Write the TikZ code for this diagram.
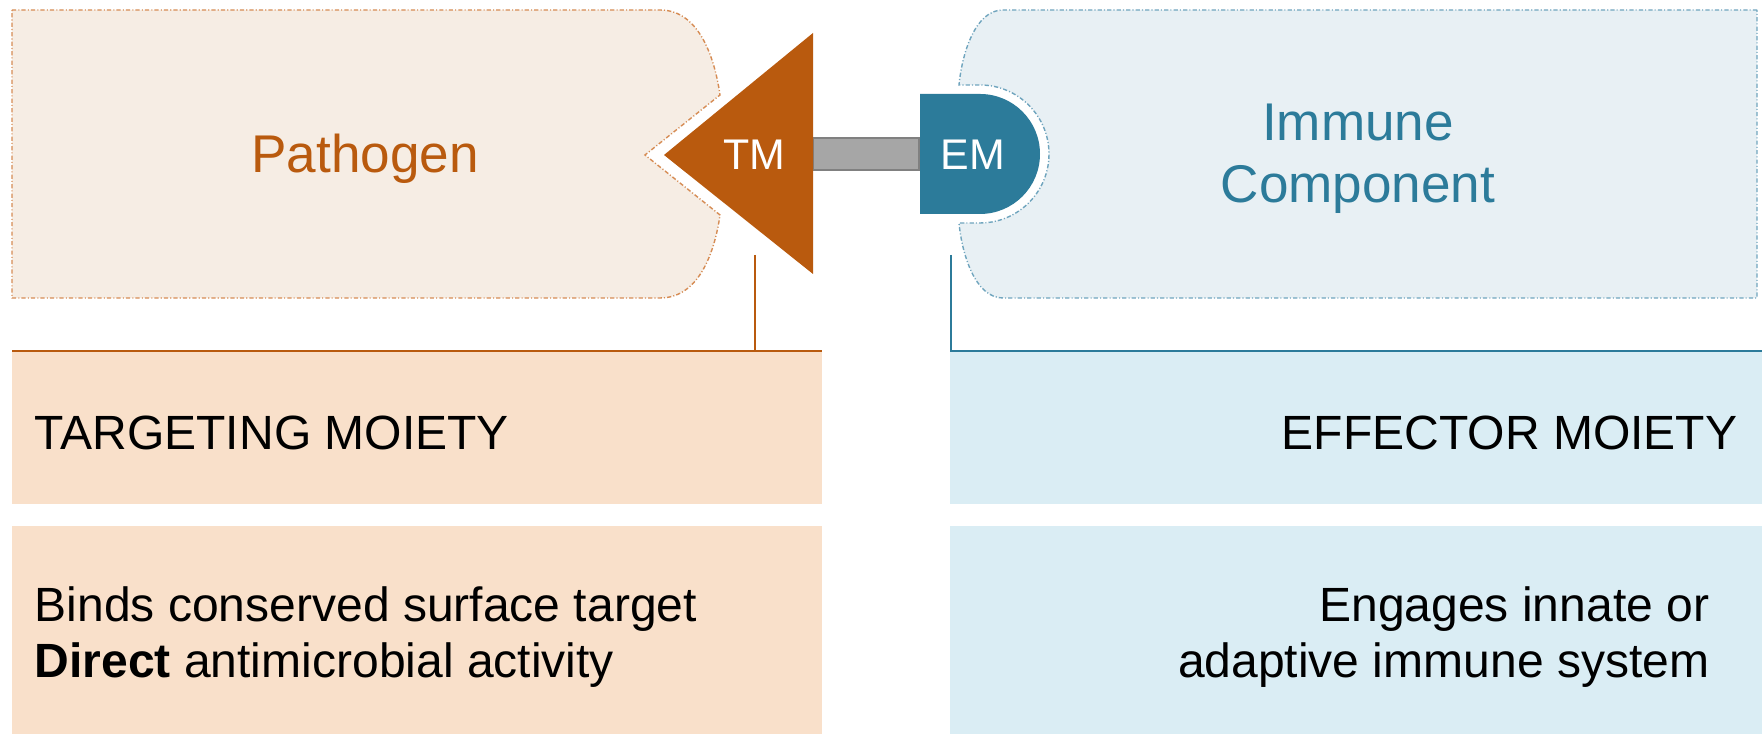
\documentclass[tikz,border=0pt]{standalone}
\usepackage{fontspec}
\setmainfont{Liberation Sans}
\usetikzlibrary{positioning}

\definecolor{tmorange}{RGB}{185,90,14}
\definecolor{tmdot}{RGB}{214,140,84}
\definecolor{tmpale}{RGB}{246,237,228}
\definecolor{tmpeach}{RGB}{249,224,202}
\definecolor{emblue}{RGB}{44,123,154}
\definecolor{emdot}{RGB}{112,165,190}
\definecolor{empale}{RGB}{232,240,244}
\definecolor{emsky}{RGB}{218,237,244}
\definecolor{barfill}{RGB}{166,166,166}
\definecolor{barline}{RGB}{128,128,128}

\begin{document}
\begin{tikzpicture}[x=0.01cm, y=0.01cm,
    host box/.style={line width=0.4pt, dash pattern=on 1.2pt off 0.6pt on 0.3pt off 0.6pt},
    label box/.style={anchor=north west, inner sep=0pt, outer sep=0pt},
    big text/.style={font=\fontsize{15.1}{17.6}\selectfont},
    small text/.style={font=\fontsize{13.66}{15.9}\selectfont, inner sep=0pt},
    moiety text/.style={font=\fontsize{12.2}{14}\selectfont, text=white}]

	\useasboundingbox (0,0) rectangle (1762,734);

	% pathogen side
	\draw[host box, draw=tmdot, fill=tmpale] (12,724) -- (660,724)
		.. controls (700,724) and (715,674) .. (720,639) -- (645,579) -- (720,519)
		.. controls (715,484) and (700,436) .. (660,436) -- (12,436) -- cycle;
	\node[big text, text=tmorange, anchor=base] (pathogen) at (365,561) {Pathogen};

	% immune side
	\draw[host box, draw=emdot, fill=empale] (1757,724) -- (1003,724)
		.. controls (975,724) and (962,680) .. (959,649) -- (980,649) arc (90:-90:69)
		-- (959,511) .. controls (962,480) and (975,436) .. (1003,436) -- (1757,436) -- cycle;
	\node[big text, text=emblue, align=center] (immune) at (1358,575) {Immune\\Component};

	% linker
	\draw[draw=barline, fill=barfill, line width=0.5pt] (813,564) rectangle (919,596);

	% moieties
	\fill[tmorange] (664,579) -- (813,701) -- (813,460) -- cycle;
	\fill[emblue] (920,640) -- (980,640) arc (90:-90:60) -- (920,520) -- cycle;
	\node[moiety text] (tm) at (754,579) {TM};
	\node[moiety text] (em) at (973,579) {EM};

	% label boxes
	\node[label box, fill=tmpeach, minimum width=8.10cm, minimum height=1.53cm] (tmhead) at (12,383) {};
	\node[label box, fill=tmpeach, minimum width=8.10cm, minimum height=2.08cm] (tmbody) at (12,208) {};
	\node[label box, fill=emsky, minimum width=8.12cm, minimum height=1.53cm] (emhead) at (950,383) {};
	\node[label box, fill=emsky, minimum width=8.12cm, minimum height=2.08cm] (embody) at (950,208) {};

	\draw[tmorange, line width=0.6pt] (tmhead.north west) -- (tmhead.north east);
	\draw[emblue, line width=0.6pt] (emhead.north west) -- (emhead.north east);

	\coordinate (tmfoot) at (755,479);
	\coordinate (emfoot) at (951,479);
	\draw[tmorange, line width=0.35pt] (tmfoot) -- (tmfoot |- tmhead.north);
	\draw[emblue, line width=0.35pt] (emfoot) -- (emfoot |- emhead.north);

	\node[small text, anchor=base west] (tmname) at (34,284) {TARGETING MOIETY};
	\node[small text, anchor=base east] (emname) at (1738,284) {EFFECTOR MOIETY};
	\node[small text, anchor=west, align=left] (tmrole) at (34,97)
		{Binds conserved surface target\\\textbf{Direct} antimicrobial activity};
	\node[small text, anchor=east, align=right] (emrole) at (1710,97)
		{Engages innate or\\adaptive immune system};

\end{tikzpicture}
\end{document}
